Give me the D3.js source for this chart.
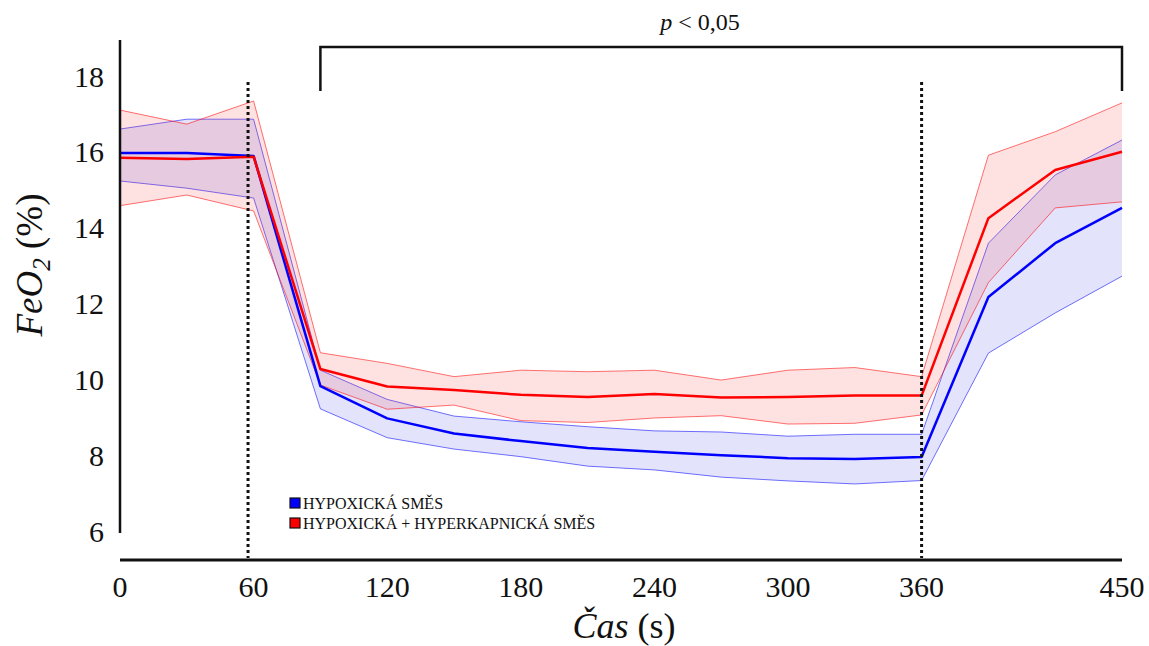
<!DOCTYPE html>
<html>
<head>
<meta charset="utf-8">
<script src="https://cdn.jsdelivr.net/npm/d3@7"></script>
<style>
  body { margin: 0; background: #fff; }
</style>
</head>
<body>
<svg id="chart" width="1149" height="646"></svg>
<script>
const times = [0, 30, 60, 90, 120, 150, 180, 210, 240, 270, 300, 330, 360, 390, 420, 450]

// hypoxic mix (blue)
const hypoMean  = [16.05, 16.05, 15.97, 9.9, 9.05, 8.65, 8.45, 8.27, 8.17, 8.08, 8.0, 7.98, 8.03, 12.25, 13.67, 14.6]
const hypoUpper = [16.68, 16.94, 16.94, 10.32, 9.55, 9.11, 8.96, 8.83, 8.72, 8.69, 8.58, 8.63, 8.63, 13.67, 15.47, 16.39]
const hypoLower = [15.31, 15.12, 14.86, 9.3, 8.54, 8.24, 8.04, 7.79, 7.69, 7.5, 7.4, 7.32, 7.41, 10.77, 11.83, 12.8]

// hypoxic + hypercapnic mix (red)
const hyperMean  = [15.92, 15.89, 15.95, 10.35, 9.89, 9.8, 9.67, 9.61, 9.69, 9.6, 9.61, 9.65, 9.65, 14.33, 15.6, 16.08]
const hyperUpper = [17.18, 16.81, 17.42, 10.78, 10.5, 10.15, 10.32, 10.28, 10.32, 10.06, 10.32, 10.39, 10.15, 15.99, 16.61, 17.37]
const hyperLower = [14.66, 14.94, 14.52, 9.93, 9.29, 9.4, 8.99, 8.94, 9.06, 9.12, 8.9, 8.92, 9.14, 12.63, 14.6, 14.76]

const xTicks = [0, 60, 120, 180, 240, 300, 360, 450]
const yTicks = [6, 8, 10, 12, 14, 16, 18]
const phaseMarks = [57.5, 360]
const bracketRange = [90, 450]
const legendLabels = ['HYPOXICKÁ SMĚS', 'HYPOXICKÁ + HYPERKAPNICKÁ SMĚS']

const series = [
	{ name: legendLabels[0], mean: hypoMean, upper: hypoUpper, lower: hypoLower, color: '#0000ff', fill: 'rgba(40,40,230,0.13)' },
	{ name: legendLabels[1], mean: hyperMean, upper: hyperUpper, lower: hyperLower, color: '#ff0000', fill: 'rgba(250,60,60,0.15)' }
]

const FONT = '"Liberation Serif", "Times New Roman", Times, serif'

const svg = d3.select('#chart')
	.attr('font-family', FONT)

const x = d3.scaleLinear().domain([0, 450]).range([120, 1122])
const y = d3.scaleLinear().domain([6, 18]).range([534, 79])

// bands
series.forEach(s => {
	const rows = times.map((t, i) => ({ t, lo: s.lower[i], hi: s.upper[i] }))
	svg.append('path')
		.datum(rows)
		.attr('fill', s.fill)
		.attr('d', d3.area().x(d => x(d.t)).y0(d => y(d.lo)).y1(d => y(d.hi)))

	const edge = d3.line().x((d, i) => x(times[i])).y(d => y(d))
	;[s.upper, s.lower].forEach(arr => {
		svg.append('path')
			.attr('d', edge(arr))
			.attr('fill', 'none')
			.attr('stroke', s.color)
			.attr('stroke-opacity', 0.55)
			.attr('stroke-width', 1)
	})
})

// mean lines
series.forEach(s => {
	svg.append('path')
		.attr('d', d3.line().x((d, i) => x(times[i])).y(d => y(d))(s.mean))
		.attr('fill', 'none')
		.attr('stroke', s.color)
		.attr('stroke-width', 2.5)
		.attr('stroke-linejoin', 'round')
})

// dotted phase markers
svg.selectAll('.mark')
	.data(phaseMarks)
	.enter().append('line')
	.attr('x1', d => x(d)).attr('x2', d => x(d))
	.attr('y1', 82).attr('y2', 558)
	.attr('stroke', '#111')
	.attr('stroke-width', 3)
	.attr('stroke-dasharray', '3,3')

// axes (plain lines, no tick marks)
svg.append('line')
	.attr('x1', x(0)).attr('x2', x(0))
	.attr('y1', 40).attr('y2', 533)
	.attr('stroke', '#111').attr('stroke-width', 2.5)

svg.append('line')
	.attr('x1', x(0)).attr('x2', x(450))
	.attr('y1', 560).attr('y2', 560)
	.attr('stroke', '#111').attr('stroke-width', 3)

svg.selectAll('.ytick')
	.data(yTicks)
	.enter().append('text')
	.attr('x', 104)
	.attr('y', d => y(d) - 3)
	.attr('dy', '0.35em')
	.attr('text-anchor', 'end')
	.attr('font-size', 30)
	.attr('fill', '#111')
	.text(d => d)

svg.selectAll('.xtick')
	.data(xTicks)
	.enter().append('text')
	.attr('x', d => x(d))
	.attr('y', 597)
	.attr('text-anchor', 'middle')
	.attr('font-size', 30)
	.attr('fill', '#111')
	.text(d => d)

// axis titles
const yTitle = svg.append('text')
	.attr('transform', 'translate(42,265) rotate(-90)')
	.attr('text-anchor', 'middle')
	.attr('font-size', 37)
	.attr('fill', '#111')
yTitle.append('tspan').attr('font-style', 'italic').text('FeO')
yTitle.append('tspan').attr('font-style', 'italic').attr('font-size', 25).attr('dy', 8).text('2')
yTitle.append('tspan').attr('dy', -8).text(' (%)')

const xTitle = svg.append('text')
	.attr('x', 624).attr('y', 638)
	.attr('text-anchor', 'middle')
	.attr('font-size', 36)
	.attr('fill', '#111')
xTitle.append('tspan').attr('font-style', 'italic').text('Čas')
xTitle.append('tspan').text(' (s)')

// significance bracket
svg.append('path')
	.attr('d', `M${x(bracketRange[0])},91V47H${x(bracketRange[1])}V91`)
	.attr('fill', 'none')
	.attr('stroke', '#111')
	.attr('stroke-width', 2.5)

const pText = svg.append('text')
	.attr('x', 700).attr('y', 30)
	.attr('text-anchor', 'middle')
	.attr('font-size', 24)
	.attr('fill', '#111')
pText.append('tspan').attr('font-style', 'italic').text('p')
pText.append('tspan').text(' < 0,05')

// legend
const legend = svg.append('g').attr('transform', 'translate(290,503)')
const item = legend.selectAll('g')
	.data(series)
	.enter().append('g')
	.attr('transform', (d, i) => `translate(0,${i * 20})`)
item.append('rect')
	.attr('x', 0).attr('y', -5)
	.attr('width', 10).attr('height', 10)
	.attr('fill', d => d.color)
	.attr('stroke', '#111')
	.attr('stroke-width', 1.2)
item.append('text')
	.attr('x', 13).attr('y', 0)
	.attr('dy', '0.35em')
	.attr('font-size', 16)
	.attr('fill', '#111')
	.text(d => d.name)
</script>
</body>
</html>
